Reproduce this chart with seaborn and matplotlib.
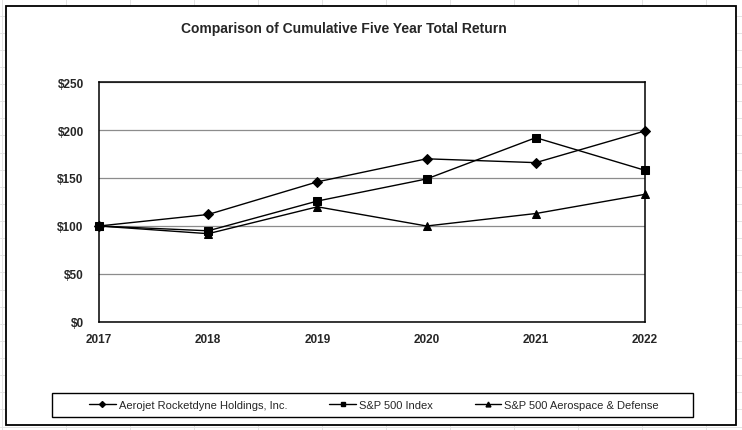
import numpy as np
import pandas as pd
import matplotlib
matplotlib.use("Agg")
import matplotlib.pyplot as plt
from matplotlib.patches import Rectangle
from matplotlib.lines import Line2D
import seaborn as sns

# Chart values
years = [2017, 2018, 2019, 2020, 2021, 2022]
aerojet = [100, 112, 146, 170, 166, 199]
sp500 = [100, 95, 126, 149, 192, 158]
sp_aero = [100, 92, 120, 100, 113, 133]
series_names = ["Aerojet Rocketdyne Holdings, Inc.", "S&P 500 Index",
                "S&P 500 Aerospace & Defense"]
y_ticks = [0, 50, 100, 150, 200, 250]
y_labels = ["$0", "$50", "$100", "$150", "$200", "$250"]

df = pd.DataFrame({
    "year": years * 3,
    "value": aerojet + sp500 + sp_aero,
    "series": [series_names[0]] * 6 + [series_names[1]] * 6 + [series_names[2]] * 6,
})

sns.set_style("white")
plt.rcParams["font.family"] = ["Liberation Sans", "DejaVu Sans"]

W, H = 742, 431
fig = plt.figure(figsize=(W / 100, H / 100), dpi=100)


def px(x, y):
    # pixel coords (top-left origin) -> figure fraction
    return x / W, 1 - y / H


# faint spreadsheet grid behind the chart box
for gx in np.arange(2, W, 64.0):
    fig.add_artist(Line2D([gx / W, gx / W], [0, 1], color="#e3e3e3", lw=0.7, zorder=0))
for gy in np.arange(16.5, H, 17.13):
    fig.add_artist(Line2D([0, 1], [1 - gy / H, 1 - gy / H], color="#e3e3e3", lw=0.7, zorder=0))

# outer chart box
x0, y0 = px(5.5, 425.5)
x1, y1 = px(736, 7)
fig.add_artist(Rectangle((x0, y0), x1 - x0, y1 - y0, transform=fig.transFigure,
                         facecolor="white", edgecolor="black", lw=1.3, zorder=1))

# plot area
left, top = px(99, 83)
right, bottom = px(645, 323)
ax = fig.add_axes([left, bottom, right - left, top - bottom], zorder=2)
ax.set_facecolor("white")

sns.lineplot(data=df, x="year", y="value", style="series", markers=["D", "s", "^"],
             dashes=False, color="black", lw=1.0, markersize=6,
             markeredgecolor="black", ax=ax, legend=False)
for ln in ax.lines:
    ln.set_clip_on(False)
    if ln.get_marker() == "D":
        ln.set_markersize(5.2)

ax.set_xlim(2017, 2022)
ax.set_ylim(0, 250)
ax.set_yticks(y_ticks)
ax.set_yticklabels(y_labels, fontweight="bold", fontsize=8.5)
ax.set_xticks(years)
ax.set_xticklabels([str(y) for y in years], fontweight="bold", fontsize=8.5)
ax.tick_params(axis="y", length=0, pad=11)
ax.tick_params(axis="x", length=4, width=1, color="black", direction="out", pad=4)
ax.yaxis.grid(True, color="#8c8c8c", lw=0.9)
ax.xaxis.grid(False)
ax.set_axisbelow(True)
ax.set_xlabel("")
ax.set_ylabel("")
for sp in ax.spines.values():
    sp.set_color("black")
    sp.set_linewidth(1.1)

# title
tx, ty = px(343.5, 29)
fig.text(tx, ty, "Comparison of Cumulative Five Year Total Return", ha="center",
         va="center", fontsize=10, fontweight="bold", zorder=3)

# legend frame
lx0, ly0 = px(52, 418)
lx1, ly1 = px(693, 394)
fig.add_artist(Rectangle((lx0, ly0), lx1 - lx0, ly1 - ly0, transform=fig.transFigure,
                         facecolor="white", edgecolor="black", lw=1.0, zorder=3))

handles = [Line2D([], [], color="black", lw=1.0, marker=m, markersize=ms)
           for m, ms in zip(["D", "s", "^"], [3, 3.5, 3.5])]
cx, cy = px(374, 406)
leg = fig.legend(handles, series_names, loc="center", bbox_to_anchor=(cx, cy),
                 ncol=3, frameon=False, fontsize=8, handlelength=2.4,
                 handletextpad=0.25, columnspacing=3.8, borderpad=0)
leg.set_zorder(4)

fig.savefig("out.png", dpi=100)
